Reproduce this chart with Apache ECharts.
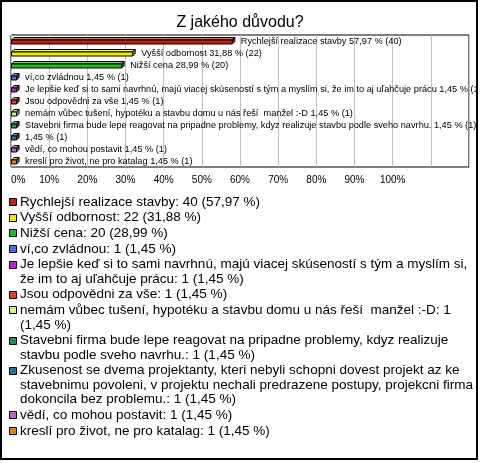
<!DOCTYPE html>
<html><head><meta charset="utf-8">
<script src="https://cdn.jsdelivr.net/npm/echarts@6/dist/echarts.min.js"></script>
<style>html,body{margin:0;padding:0;background:#fff}#c{width:480px;height:463px}</style>
</head><body><div id="c"></div>
<script>
const chartTitle = 'Z jakého důvodu?';
const categories = [
  'Rychlejší realizace stavby',
  'Vyšší odbornost',
  'Nižší cena',
  'ví,co zvládnou',
  'Je lepšie keď si to sami navrhnú, majú viacej skúseností s tým a myslím si, že im to aj uľahčuje prácu',
  'Jsou odpovědni za vše',
  'nemám vůbec tušení, hypotéku a stavbu domu u nás řeší  manžel :-D',
  'Stavebni firma bude lepe reagovat na pripadne problemy, kdyz realizuje stavbu podle sveho navrhu.',
  'Zkusenost se dvema projektanty, kteri nebyli schopni dovest projekt az ke stavebnimu povoleni, v projektu nechali predrazene postupy, projekcni firma dokoncila bez problemu.',
  'vědí, co mohou postavit',
  'kreslí pro život, ne pro katalag'
];
const barLabelNames = [
  'Rychlejší realizace stavby',
  'Vyšší odbornost',
  'Nižší cena',
  'ví,co zvládnou',
  'Je lepšie keď si to sami navrhnú, majú viacej skúseností s tým a myslím si, že im to aj uľahčuje prácu',
  'Jsou odpovědni za vše',
  'nemám vůbec tušení, hypotéku a stavbu domu u nás řeší  manžel :-D',
  'Stavebni firma bude lepe reagovat na pripadne problemy, kdyz realizuje stavbu podle sveho navrhu.',
  '',
  'vědí, co mohou postavit',
  'kreslí pro život, ne pro katalag'
];
const counts = [40, 22, 20, 1, 1, 1, 1, 1, 1, 1, 1];
const percents = [57.97, 31.88, 28.99, 1.45, 1.45, 1.45, 1.45, 1.45, 1.45, 1.45, 1.45];
const colors = ['#c0200f', '#f5e800', '#22bb22', '#4a6ee0', '#c020d0', '#e4401a', '#c8f97a', '#1f8f5a', '#22789a', '#c060c4', '#e88010'];
const axisMax = 120;
const axisStep = 10;
const labelMaxValue = 100;

const FONT = '"Liberation Sans", Arial, sans-serif';
function fmt(p) { return p.toFixed(2).replace('.', ','); }
function mix(hex, t, target) {
  const n = parseInt(hex.slice(1), 16);
  let r = n >> 16, g = (n >> 8) & 255, b = n & 255;
  r = Math.round(r + (target - r) * t); g = Math.round(g + (target - g) * t); b = Math.round(b + (target - b) * t);
  return 'rgb(' + r + ',' + g + ',' + b + ')';
}

// legend wrapping
const legendFontSize = 13.5;
const legendMaxWidth = 457;
const cv = document.createElement('canvas').getContext('2d');
cv.font = legendFontSize + 'px ' + FONT;
function wrap(text) {
  const words = text.split(' ');
  const lines = []; let cur = '';
  for (const w of words) {
    const t = cur === '' ? w : cur + ' ' + w;
    if (cur !== '' && cv.measureText(t).width > legendMaxWidth) { lines.push(cur); cur = w; }
    else cur = t;
  }
  lines.push(cur);
  return lines;
}

const graphics = [];
graphics.push({ type: 'rect', z: 100, shape: { x: 477, y: 0, width: 3, height: 463 }, style: { fill: '#fff' }, silent: true });
graphics.push({ type: 'rect', z: 101, shape: { x: 1, y: 1, width: 476, height: 458 }, style: { fill: 'none', stroke: '#000', lineWidth: 2 }, silent: true });
let ly = 202;
const lineStep = 14.5, itemGap = 1.15;
categories.forEach((name, i) => {
  const lines = wrap(name + ': ' + counts[i] + ' (' + fmt(percents[i]) + ' %)');
  graphics.push({ type: 'rect', shape: { x: 9.5, y: Math.round(ly) - 3.5, width: 7, height: 7 }, style: { fill: colors[i], stroke: '#000', lineWidth: 1 } });
  lines.forEach((ln, k) => {
    graphics.push({ type: 'text', x: 20, y: ly + k * lineStep, style: { text: ln, font: legendFontSize + 'px ' + FONT, fill: '#000', verticalAlign: 'middle', align: 'left' } });
  });
  ly += lines.length * lineStep + itemGap;
});

const chart = echarts.init(document.getElementById('c'), null, { renderer: 'canvas' });
chart.setOption({
  animation: false,
  backgroundColor: '#fff',
  title: { text: chartTitle, left: 'center', top: 10, textStyle: { fontFamily: FONT, fontSize: 16, fontWeight: 'normal', color: '#000' } },
  grid: { left: 11, top: 35, width: 458, height: 132, show: true, borderColor: '#000', borderWidth: 1, backgroundColor: '#fff' },
  xAxis: {
    type: 'value', min: 0, max: axisMax, interval: axisStep,
    axisLine: { show: false }, axisTick: { show: false },
    splitLine: { show: true, lineStyle: { color: '#c0c0c0', width: 1 } },
    axisLabel: { margin: 8, color: '#000', fontFamily: FONT, fontSize: 10, alignMinLabel: 'left',
      formatter: v => v <= labelMaxValue ? v + '%' : '' }
  },
  yAxis: {
    type: 'category', inverse: true, data: categories.map((c, i) => i),
    axisLine: { show: false }, axisTick: { show: false }, axisLabel: { show: false }, splitLine: { show: false }
  },
  series: [{
    type: 'custom', clip: false,
    encode: { x: 1, y: 0 },
    data: percents.map((p, i) => [i, p]),
    renderItem: function (params, api) {
      const i = api.value(0), v = api.value(1);
      const p0 = api.coord([0, i]), p1 = api.coord([v, i]);
      const yc = p0[1] + 0.5;
      const d = 2.5;
      const x0 = p0[0] + 0.5, x1 = p1[0];
      const yT = yc - 1.5, yB = yc + 2.5;
      const c = colors[i];
      const stroke = { stroke: '#000', lineWidth: 1 };
      return {
        type: 'group', children: [
          { type: 'polygon', shape: { points: [[x0, yT], [x0 + d, yT - d], [x1 + d, yT - d], [x1, yT]] }, style: Object.assign({ fill: mix(c, 0.35, 255) }, stroke) },
          { type: 'polygon', shape: { points: [[x1, yT], [x1 + d, yT - d], [x1 + d, yB - d], [x1, yB]] }, style: Object.assign({ fill: mix(c, 0.3, 0) }, stroke) },
          { type: 'rect', shape: { x: x0, y: yT, width: x1 - x0, height: yB - yT }, style: Object.assign({ fill: c }, stroke) },
          { type: 'text', x: x1 + d + 6, y: yc, style: {
              text: (barLabelNames[i] ? barLabelNames[i] + ' ' : '') + fmt(percents[i]) + ' % (' + counts[i] + ')',
              font: '9.2px ' + FONT, fill: '#000', verticalAlign: 'middle', align: 'left' } }
        ]
      };
    }
  }],
  graphic: graphics
});
</script></body></html>
